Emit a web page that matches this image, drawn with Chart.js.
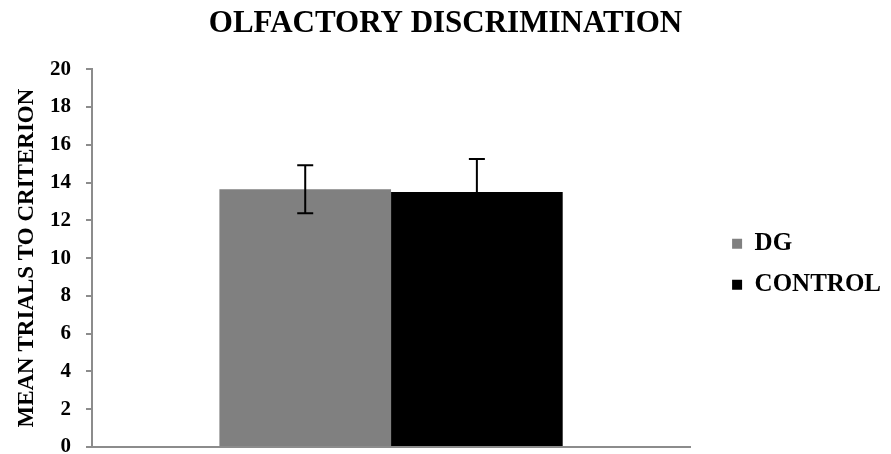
<!DOCTYPE html>
<html>
<head>
<meta charset="utf-8">
<script src="https://cdn.jsdelivr.net/npm/chart.js@4/dist/chart.umd.min.js"></script>
<style>
  html, body { margin: 0; padding: 0; background: #fff; }
  #wrap { width: 891px; height: 454px; }
</style>
</head>
<body>
<div id="wrap"><canvas id="c" width="891" height="454"></canvas></div>
<script>
// Single group, two series with their standard errors
const categories = [''];
const seriesNames = ['DG', 'CONTROL'];
const dgValues = [13.65];
const controlValues = [13.5];
const dgErrors = [1.27];
const controlErrors = [1.75];
const yTicks = [0, 2, 4, 6, 8, 10, 12, 14, 16, 18, 20];

const SERIF = '"Liberation Serif", "Times New Roman", serif';
const AXIS_GREY = '#8c8c8c';

// Draws symmetric error bars on top of each bar using the y scale
const errorBars = {
  id: 'errorBars',
  afterDatasetsDraw(chart) {
    const ctx = chart.ctx;
    const y = chart.scales.y;
    chart.data.datasets.forEach((ds, di) => {
      const meta = chart.getDatasetMeta(di);
      meta.data.forEach((bar, i) => {
        const v = ds.data[i];
        const e = ds.errors[i];
        const yTop = y.getPixelForValue(v + e);
        const yBot = y.getPixelForValue(v - e);
        const x = bar.x;
        const cap = 8;
        ctx.save();
        ctx.strokeStyle = '#000';
        ctx.lineWidth = 2;
        ctx.beginPath();
        ctx.moveTo(x, yTop); ctx.lineTo(x, yBot);
        ctx.moveTo(x - cap, yTop); ctx.lineTo(x + cap, yTop);
        ctx.moveTo(x - cap, yBot); ctx.lineTo(x + cap, yBot);
        ctx.stroke();
        ctx.restore();
      });
    });
  }
};

// Lets the right-hand legend take the full width of its longest label
const wideLegend = {
  id: 'wideLegend',
  afterInit(chart) {
    const legend = chart.legend;
    if (!legend) return;
    const fit = legend.fit;
    legend.fit = function () {
      this.maxWidth = Infinity;
      fit.call(this);
    };
  }
};

new Chart(document.getElementById('c'), {
  type: 'bar',
  data: {
    labels: categories,
    datasets: [
      { label: seriesNames[0], data: dgValues, errors: dgErrors, backgroundColor: '#808080' },
      { label: seriesNames[1], data: controlValues, errors: controlErrors, backgroundColor: '#000000' }
    ]
  },
  options: {
    responsive: false,
    animation: false,
    events: [],
    datasets: { bar: { barPercentage: 1.0, categoryPercentage: 0.574 } },
    layout: { padding: 0 },
    plugins: {
      title: {
        display: true,
        text: 'OLFACTORY DISCRIMINATION',
        color: '#000',
        font: { family: SERIF, size: 31, weight: 'bold', lineHeight: 1.2 },
        padding: { top: 5, bottom: 27 }
      },
      legend: {
        position: 'right',
        fullSize: false,
        title: { display: true, text: '', font: { size: 2 }, padding: { top: 0, bottom: 10 } },
        labels: {
          color: '#000',
          boxWidth: 10,
          boxHeight: 10,
          padding: 16,
          font: { family: SERIF, size: 25, weight: 'bold' }
        }
      },
      tooltip: { enabled: false }
    },
    scales: {
      x: {
        grid: { display: false, drawTicks: false },
        ticks: { display: false },
        border: { display: true, color: AXIS_GREY, width: 2 },
        afterFit(s) { s.height = 7; }
      },
      y: {
        min: 0,
        max: 20,
        afterBuildTicks(s) { s.ticks = yTicks.map(v => ({ value: v })); },
        grid: { drawOnChartArea: false, drawTicks: true, tickLength: 6, color: AXIS_GREY, lineWidth: 2 },
        border: { display: true, color: AXIS_GREY, width: 2 },
        ticks: {
          color: '#000',
          padding: 15,
          font: { family: SERIF, size: 21, weight: 'bold' }
        },
        title: {
          display: true,
          text: 'MEAN TRIALS TO CRITERION',
          color: '#000',
          font: { family: SERIF, size: 23, weight: 'bold', lineHeight: 1.2 },
          padding: { top: 13, bottom: 0 }
        },
        afterFit(s) { s.width = 92; s.paddingTop = 0; s.paddingBottom = 0; }
      },
      gap: {
        axis: 'y',
        position: 'right',
        display: true,
        grid: { display: false, drawTicks: false },
        border: { display: false },
        ticks: { display: false },
        afterFit(s) { s.width = 26; }
      }
    }
  },
  plugins: [errorBars, wideLegend]
});
</script>
</body>
</html>
